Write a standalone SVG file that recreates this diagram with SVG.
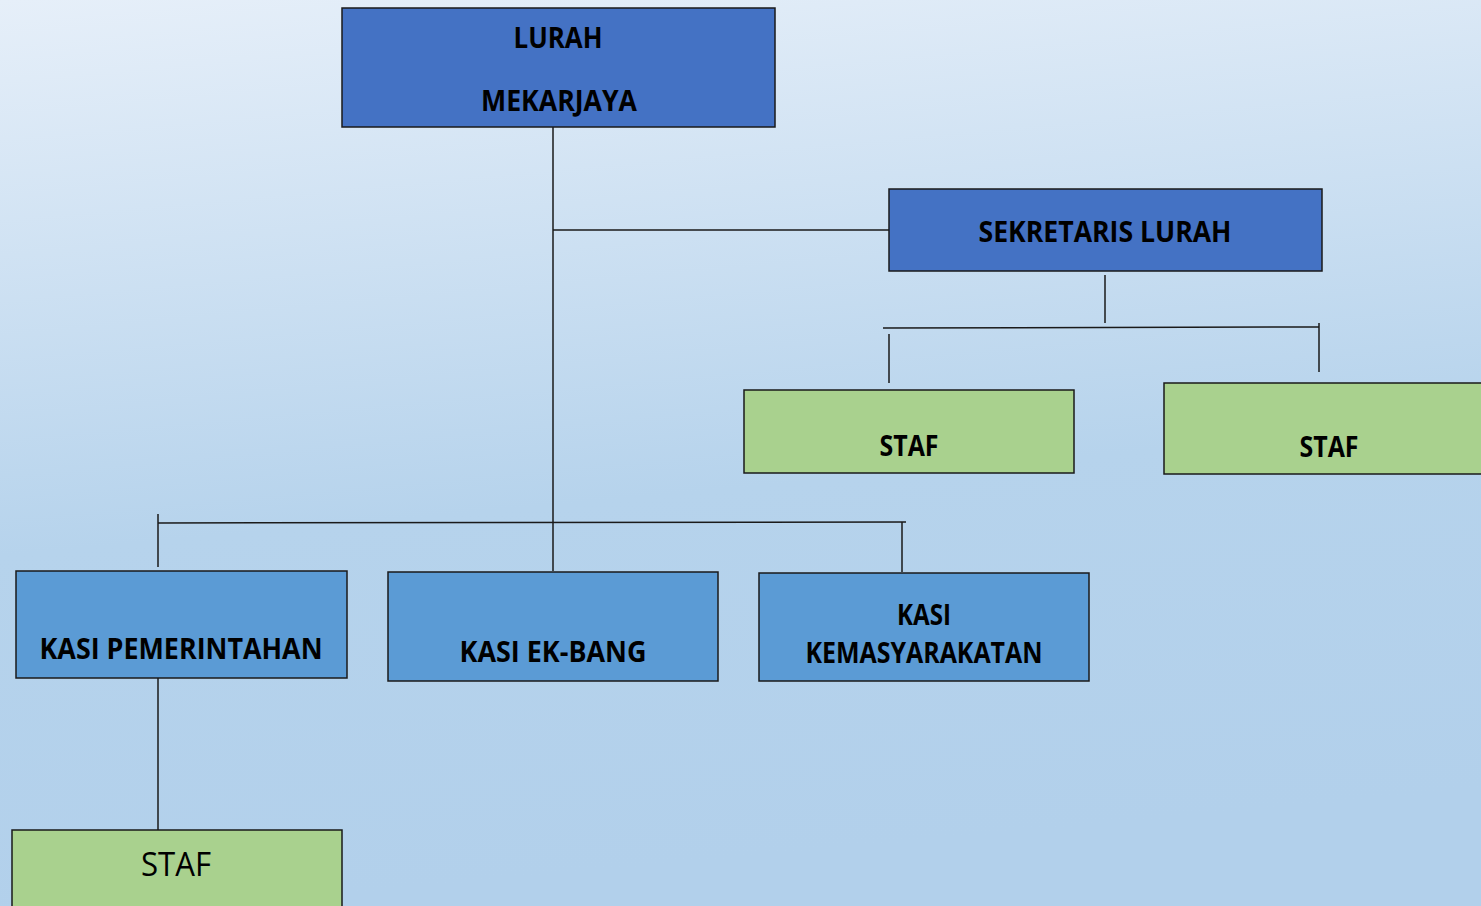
<svg xmlns="http://www.w3.org/2000/svg" width="1481" height="906" viewBox="0 0 1481 906">
<defs>
<linearGradient id="bg" x1="0" y1="0" x2="0.15" y2="1">
<stop offset="0" stop-color="#E6EFF9"/>
<stop offset="0.6" stop-color="#B6D3EC"/>
<stop offset="1" stop-color="#B2D0EB"/>
</linearGradient>
<style>
.box{stroke:#1a1a1a;stroke-width:1.5}
.dk{fill:#4472C4}
.md{fill:#5B9BD5}
.gr{fill:#A9D18E}
.t{font-family:"Open Sans","Noto Sans",sans-serif;font-weight:bold;font-size:28px;fill:#000;text-anchor:middle}
.r{font-family:"Open Sans","Noto Sans",sans-serif;font-size:32px;fill:#000;text-anchor:middle}
.c line{stroke:#1a1a1a;stroke-width:1.5}
</style>
</defs>
<rect x="0" y="0" width="1481" height="906" fill="url(#bg)"/>
<g class="c" id="connectors">
<line x1="553" y1="127" x2="553" y2="571"/>
<line x1="553" y1="230" x2="889" y2="230"/>
<line x1="1105" y1="275" x2="1105" y2="323"/>
<line x1="883" y1="328" x2="1319" y2="327"/>
<line x1="889" y1="334" x2="889" y2="383"/>
<line x1="1319" y1="323" x2="1319" y2="372"/>
<line x1="158" y1="523" x2="906" y2="522"/>
<line x1="158" y1="514" x2="158" y2="567"/>
<line x1="902" y1="522" x2="902" y2="572"/>
<line x1="158" y1="678" x2="158" y2="830"/>
</g>
<g id="lurah">
<rect class="box dk" x="342" y="8" width="433" height="119"/>
<text class="t" x="558" y="48" textLength="89" lengthAdjust="spacingAndGlyphs">LURAH</text>
<text class="t" x="559" y="111" textLength="156" lengthAdjust="spacingAndGlyphs">MEKARJAYA</text>
</g>
<g id="sekretaris">
<rect class="box dk" x="889" y="189" width="433" height="82"/>
<text class="t" x="1105" y="242" textLength="253" lengthAdjust="spacingAndGlyphs">SEKRETARIS LURAH</text>
</g>
<g id="staf1">
<rect class="box gr" x="744" y="390" width="330" height="83"/>
<text class="t" x="909" y="456" textLength="59" lengthAdjust="spacingAndGlyphs">STAF</text>
</g>
<g id="staf2">
<rect class="box gr" x="1164" y="383" width="330" height="91"/>
<text class="t" x="1329" y="457" textLength="59" lengthAdjust="spacingAndGlyphs">STAF</text>
</g>
<g id="kasi-pemerintahan">
<rect class="box md" x="16" y="571" width="331" height="107"/>
<text class="t" x="181" y="659" textLength="283" lengthAdjust="spacingAndGlyphs">KASI PEMERINTAHAN</text>
</g>
<g id="kasi-ekbang">
<rect class="box md" x="388" y="572" width="330" height="109"/>
<text class="t" x="553" y="662" textLength="187" lengthAdjust="spacingAndGlyphs">KASI EK-BANG</text>
</g>
<g id="kasi-kemasyarakatan">
<rect class="box md" x="759" y="573" width="330" height="108"/>
<text class="t" x="924" y="625" textLength="54" lengthAdjust="spacingAndGlyphs">KASI</text>
<text class="t" x="924" y="663" textLength="237" lengthAdjust="spacingAndGlyphs">KEMASYARAKATAN</text>
</g>
<g id="staf3">
<rect class="box gr" x="12" y="830" width="330" height="90"/>
<text class="r" x="176" y="876" textLength="70" lengthAdjust="spacingAndGlyphs">STAF</text>
</g>
</svg>
